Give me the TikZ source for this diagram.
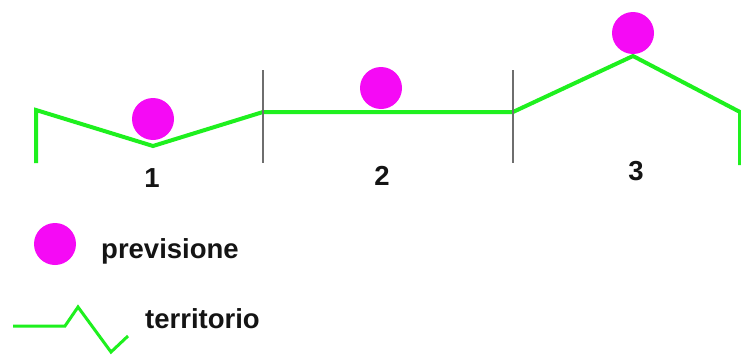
\documentclass[tikz,border=0pt]{standalone}
\usepackage{fontspec}
\setmainfont{Liberation Sans}
\usetikzlibrary{positioning}
\definecolor{TerGreen}{HTML}{1EF01E}
\definecolor{PrevMagenta}{HTML}{F50AF5}
\definecolor{SepGray}{HTML}{6E6E6E}

\begin{document}
\begin{tikzpicture}[
    x=1pt,y=-1pt,
    dot/.style={circle,fill=PrevMagenta,minimum size=42pt,inner sep=0pt},
    terr/.style={TerGreen,line width=4pt},
    sep/.style={SepGray,line width=1.6pt},
    lbl/.style={font={\fontsize{27.5}{30}\selectfont\bfseries},inner sep=0pt,text=black!92}
  ]
    \useasboundingbox[fill=white] (0,0) rectangle (741,356);
    % territorio
    \coordinate (t0) at (36,163); \coordinate (t1) at (36,110);
    \coordinate (t2) at (153,146); \coordinate (t3) at (263,112);
    \coordinate (t4) at (513,112); \coordinate (t5) at (633,56);
    \coordinate (t6) at (740,112); \coordinate (t7) at (740,165);
    \draw[terr] (t0)--(t1)--(t2)--(t3)--(t4)--(t5)--(t6)--(t7);
    % separatori
    \coordinate (s1a) at (263,70); \coordinate (s1b) at (263,163);
    \coordinate (s2a) at (513,70); \coordinate (s2b) at (513,163);
    \draw[sep] (s1a)--(s1b); \draw[sep] (s2a)--(s2b);
    % previsioni
    \node[dot] (p1) at (153,119) {};
    \node[dot] (p2) at (381,88) {};
    \node[dot] (p3) at (633,33) {};
    \node[lbl,anchor=base] (n1) at (152,187) {1};
    \node[lbl,anchor=base] (n2) at (382,185) {2};
    \node[lbl,anchor=base] (n3) at (636,180) {3};
    % legenda
    \node[dot] (kdot) at (55,244) {};
    \node[lbl,anchor=base west] (kprev) at (101,258) {previsione};
    \coordinate (k0) at (13,326); \coordinate (k1) at (65,326);
    \coordinate (k2) at (78,307); \coordinate (k3) at (111,352);
    \coordinate (k4) at (128,336);
    \draw[terr,line width=3pt] (k0)--(k1)--(k2)--(k3)--(k4);
    \node[lbl,anchor=base west] (kterr) at (145,328) {territorio};
\end{tikzpicture}
\end{document}
